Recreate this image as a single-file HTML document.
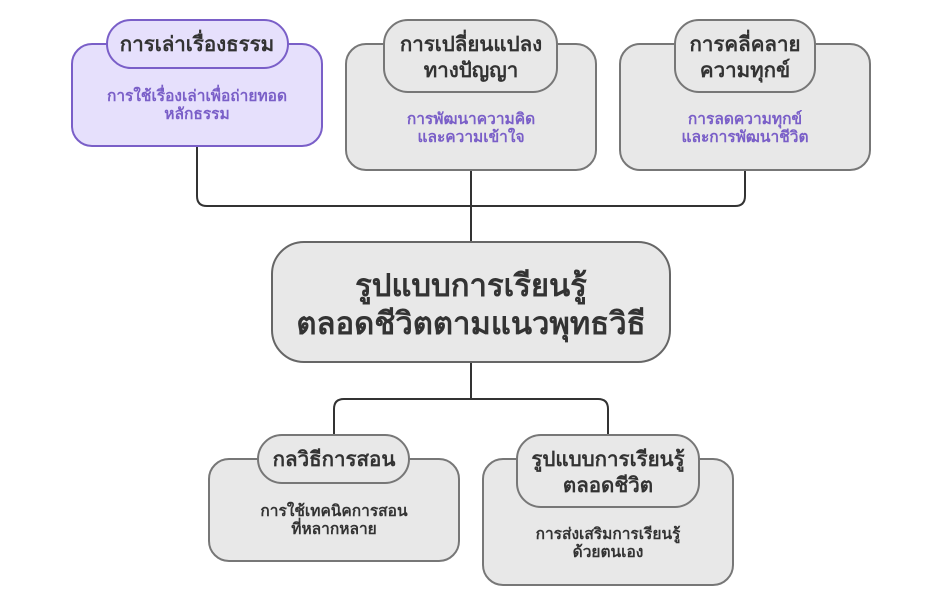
<!DOCTYPE html>
<html><head><meta charset="utf-8"><style>
html,body{margin:0;padding:0;background:#fff;width:942px;height:590px;overflow:hidden}
svg text{font-family:"Liberation Sans","DejaVu Sans",sans-serif;font-weight:bold;text-anchor:middle}
</style></head><body>
<svg width="942" height="590" viewBox="0 0 942 590" xmlns="http://www.w3.org/2000/svg">
<g fill="none" stroke="#333" stroke-width="2">
<path d="M197 146 V196 Q197 206 207 206 H735 Q745 206 745 196 V170"/>
<path d="M471 170 V242"/>
<path d="M471 362 V399"/>
<path d="M334 435 V409 Q334 399 344 399 H598 Q608 399 608 409 V435"/>
</g>
<rect x="72" y="44" width="250" height="102" rx="20" fill="#e6e0fc" stroke="#7a5fc8" stroke-width="2"/>
<rect x="107" y="20" width="181" height="48" rx="24" fill="#e6e0fc" stroke="#7a5fc8" stroke-width="2"/>
<text x="197" y="51" font-size="20.5" fill="#333">การเล่าเรื่องธรรม</text>
<text x="197" y="101" font-size="15.5" fill="#7a5fc8">การใช้เรื่องเล่าเพื่อถ่ายทอด</text>
<text x="197" y="119" font-size="15.5" fill="#7a5fc8">หลักธรรม</text>
<rect x="346" y="44" width="250" height="126" rx="20" fill="#e8e8e8" stroke="#777" stroke-width="2"/>
<rect x="384" y="20" width="173" height="72" rx="24" fill="#e8e8e8" stroke="#777" stroke-width="2"/>
<text x="471" y="51" font-size="20.5" fill="#333">การเปลี่ยนแปลง</text>
<text x="471" y="77" font-size="20.5" fill="#333">ทางปัญญา</text>
<text x="471" y="124" font-size="15.5" fill="#7a5fc8">การพัฒนาความคิด</text>
<text x="471" y="142" font-size="15.5" fill="#7a5fc8">และความเข้าใจ</text>
<rect x="620" y="44" width="250" height="126" rx="20" fill="#e8e8e8" stroke="#777" stroke-width="2"/>
<rect x="675" y="20" width="140" height="72" rx="24" fill="#e8e8e8" stroke="#777" stroke-width="2"/>
<text x="745" y="51" font-size="20.5" fill="#333">การคลี่คลาย</text>
<text x="745" y="77" font-size="20.5" fill="#333">ความทุกข์</text>
<text x="745" y="124" font-size="15.5" fill="#7a5fc8">การลดความทุกข์</text>
<text x="745" y="142" font-size="15.5" fill="#7a5fc8">และการพัฒนาชีวิต</text>
<rect x="272" y="242" width="398" height="120" rx="32" fill="#e8e8e8" stroke="#666" stroke-width="2"/>
<text x="471" y="296" font-size="31" fill="#333">รูปแบบการเรียนรู้</text>
<text x="471" y="334" font-size="31" fill="#333">ตลอดชีวิตตามแนวพุทธวิธี</text>
<rect x="209" y="459" width="250" height="102" rx="20" fill="#e8e8e8" stroke="#777" stroke-width="2"/>
<rect x="258" y="435" width="151" height="48" rx="24" fill="#e8e8e8" stroke="#777" stroke-width="2"/>
<text x="334" y="466" font-size="20.5" fill="#333">กลวิธีการสอน</text>
<text x="334" y="516" font-size="15.5" fill="#333">การใช้เทคนิคการสอน</text>
<text x="334" y="534" font-size="15.5" fill="#333">ที่หลากหลาย</text>
<rect x="483" y="459" width="250" height="126" rx="20" fill="#e8e8e8" stroke="#777" stroke-width="2"/>
<rect x="517" y="435" width="182" height="72" rx="24" fill="#e8e8e8" stroke="#777" stroke-width="2"/>
<text x="608" y="466" font-size="20.5" fill="#333">รูปแบบการเรียนรู้</text>
<text x="608" y="492" font-size="20.5" fill="#333">ตลอดชีวิต</text>
<text x="608" y="539" font-size="15.5" fill="#333">การส่งเสริมการเรียนรู้</text>
<text x="608" y="557" font-size="15.5" fill="#333">ด้วยตนเอง</text>
</svg>
</body></html>
